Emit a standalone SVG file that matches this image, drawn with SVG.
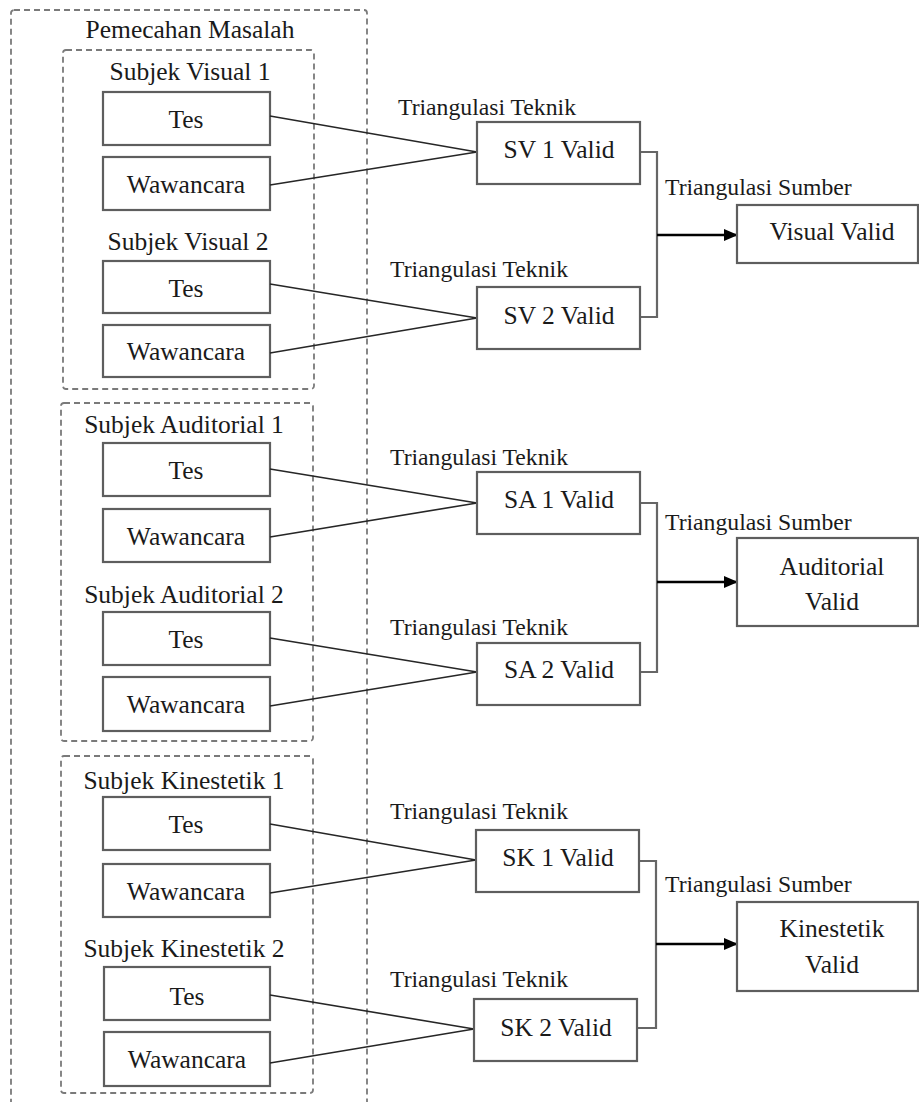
<svg xmlns="http://www.w3.org/2000/svg" width="919" height="1102" viewBox="0 0 919 1102">
  <style>
    .grp { fill: none; stroke: #7a7a7a; stroke-width: 1.8; stroke-dasharray: 6 4; }
    .box { fill: #ffffff; stroke: #5e5e5e; stroke-width: 2.2; }
    text { font-family: "Liberation Serif", "Times New Roman", Times, Tinos, "Nimbus Roman", "Noto Serif", "DejaVu Serif", FreeSerif, serif; fill: #1a1a1a; }
    .t { font-size: 25.5px; text-anchor: middle; }
    .lbl { font-size: 23.7px; }
    .edge { fill: none; stroke: #262626; stroke-width: 1.6; }
    .brk { fill: none; stroke: #666666; stroke-width: 2.2; }
    .arr { fill: none; stroke: #000000; stroke-width: 2.6; }
  </style>
  <defs>
    <marker id="head" markerWidth="14" markerHeight="12" refX="13" refY="6" orient="auto" markerUnits="userSpaceOnUse">
      <path d="M0,0 L14,6 L0,12 Z" fill="#000000"/>
    </marker>
  </defs>
  <rect width="919" height="1102" fill="#ffffff"/>

  <!-- outer group -->
  <g id="pemecahan-masalah">
    <rect class="grp" x="11" y="10" width="356" height="1110" rx="3"/>
    <text class="t" x="190" y="38">Pemecahan Masalah</text>
  </g>

  <!-- Visual subjects -->
  <g id="group-visual">
    <rect class="grp" x="63" y="50" width="251" height="339" rx="3"/>
  </g>
  <g id="sv1">
    <text class="t" x="190" y="80">Subjek Visual 1</text>
    <g id="sv1-tes"><rect class="box" x="103" y="92" width="167" height="53"/><text class="t" x="186" y="128">Tes</text></g>
    <g id="sv1-wawancara"><rect class="box" x="103" y="157" width="167" height="53"/><text class="t" x="186" y="193">Wawancara</text></g>
  </g>
  <g id="sv2">
    <text class="t" x="188" y="250">Subjek Visual 2</text>
    <g id="sv2-tes"><rect class="box" x="103" y="261" width="167" height="52"/><text class="t" x="186" y="297">Tes</text></g>
    <g id="sv2-wawancara"><rect class="box" x="103" y="325" width="167" height="52"/><text class="t" x="186" y="360">Wawancara</text></g>
  </g>

  <!-- Auditorial subjects -->
  <g id="group-auditorial">
    <rect class="grp" x="61" y="403" width="252" height="338" rx="3"/>
  </g>
  <g id="sa1">
    <text class="t" x="184" y="433">Subjek Auditorial 1</text>
    <g id="sa1-tes"><rect class="box" x="103" y="443" width="167" height="53"/><text class="t" x="186" y="479">Tes</text></g>
    <g id="sa1-wawancara"><rect class="box" x="103" y="509" width="167" height="53"/><text class="t" x="186" y="545">Wawancara</text></g>
  </g>
  <g id="sa2">
    <text class="t" x="184" y="603">Subjek Auditorial 2</text>
    <g id="sa2-tes"><rect class="box" x="103" y="612" width="167" height="53"/><text class="t" x="186" y="648">Tes</text></g>
    <g id="sa2-wawancara"><rect class="box" x="103" y="677" width="167" height="54"/><text class="t" x="186" y="713">Wawancara</text></g>
  </g>

  <!-- Kinestetik subjects -->
  <g id="group-kinestetik">
    <rect class="grp" x="61" y="756" width="252" height="337" rx="3"/>
  </g>
  <g id="sk1">
    <text class="t" x="184" y="789">Subjek Kinestetik 1</text>
    <g id="sk1-tes"><rect class="box" x="103" y="797" width="167" height="53"/><text class="t" x="186" y="833">Tes</text></g>
    <g id="sk1-wawancara"><rect class="box" x="103" y="864" width="167" height="53"/><text class="t" x="186" y="900">Wawancara</text></g>
  </g>
  <g id="sk2">
    <text class="t" x="184" y="957">Subjek Kinestetik 2</text>
    <g id="sk2-tes"><rect class="box" x="104" y="967" width="166" height="53"/><text class="t" x="187" y="1005">Tes</text></g>
    <g id="sk2-wawancara"><rect class="box" x="104" y="1032" width="166" height="54"/><text class="t" x="187" y="1068">Wawancara</text></g>
  </g>

  <!-- connectors -->
  <g id="connectors">
    <path class="edge" d="M270,116 L477,152"/>
    <path class="edge" d="M270,185 L477,152"/>
    <path class="edge" d="M270,284 L477,318"/>
    <path class="edge" d="M270,353 L477,318"/>
    <path class="edge" d="M270,469 L477,503"/>
    <path class="edge" d="M270,537 L477,503"/>
    <path class="edge" d="M270,638 L477,672"/>
    <path class="edge" d="M270,706 L477,672"/>
    <path class="edge" d="M270,824 L476,860"/>
    <path class="edge" d="M270,893 L476,860"/>
    <path class="edge" d="M270,995 L474,1029"/>
    <path class="edge" d="M270,1063 L474,1029"/>

    <path class="brk" d="M640,152 H657 V317 H640"/>
    <path class="brk" d="M640,503 H657 V672 H640"/>
    <path class="brk" d="M639,861 H656 V1028 H637"/>

    <path class="arr" d="M657,235 H737" marker-end="url(#head)"/>
    <path class="arr" d="M657,582 H737" marker-end="url(#head)"/>
    <path class="arr" d="M656,944 H737" marker-end="url(#head)"/>
  </g>

  <!-- technique triangulation results -->
  <g id="sv1-valid">
    <text class="lbl" x="398" y="115">Triangulasi Teknik</text>
    <rect class="box" x="477" y="122" width="163" height="62"/>
    <text class="t" x="559" y="158">SV 1 Valid</text>
  </g>
  <g id="sv2-valid">
    <text class="lbl" x="390" y="277">Triangulasi Teknik</text>
    <rect class="box" x="477" y="287" width="163" height="62"/>
    <text class="t" x="559" y="324">SV 2 Valid</text>
  </g>
  <g id="sa1-valid">
    <text class="lbl" x="390" y="465">Triangulasi Teknik</text>
    <rect class="box" x="477" y="472" width="163" height="62"/>
    <text class="t" x="559" y="508">SA 1 Valid</text>
  </g>
  <g id="sa2-valid">
    <text class="lbl" x="390" y="635">Triangulasi Teknik</text>
    <rect class="box" x="477" y="643" width="163" height="62"/>
    <text class="t" x="559" y="678">SA 2 Valid</text>
  </g>
  <g id="sk1-valid">
    <text class="lbl" x="390" y="819">Triangulasi Teknik</text>
    <rect class="box" x="476" y="830" width="163" height="62"/>
    <text class="t" x="558" y="866">SK 1 Valid</text>
  </g>
  <g id="sk2-valid">
    <text class="lbl" x="390" y="987">Triangulasi Teknik</text>
    <rect class="box" x="474" y="999" width="163" height="62"/>
    <text class="t" x="556" y="1036">SK 2 Valid</text>
  </g>

  <!-- source triangulation results -->
  <g id="visual-valid">
    <text class="lbl" x="665" y="195">Triangulasi Sumber</text>
    <rect class="box" x="737" y="205" width="181" height="58"/>
    <text class="t" x="832" y="240">Visual Valid</text>
  </g>
  <g id="auditorial-valid">
    <text class="lbl" x="665" y="530">Triangulasi Sumber</text>
    <rect class="box" x="737" y="538" width="181" height="88"/>
    <text class="t" x="832" y="575">Auditorial</text>
    <text class="t" x="832" y="610">Valid</text>
  </g>
  <g id="kinestetik-valid">
    <text class="lbl" x="665" y="892">Triangulasi Sumber</text>
    <rect class="box" x="737" y="902" width="181" height="89"/>
    <text class="t" x="832" y="937">Kinestetik</text>
    <text class="t" x="832" y="973">Valid</text>
  </g>
</svg>
